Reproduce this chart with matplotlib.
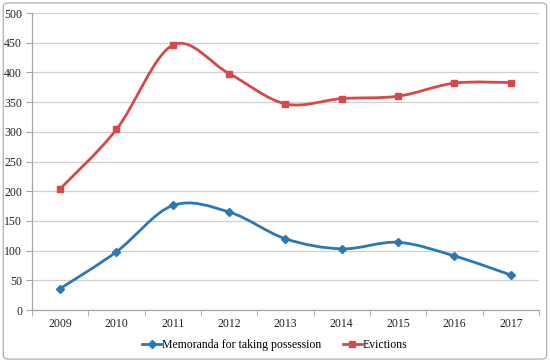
import numpy as np
import matplotlib
matplotlib.use('Agg')
import matplotlib.pyplot as plt
from matplotlib.path import Path
from matplotlib.patches import PathPatch, FancyBboxPatch

# data
years = ['2009', '2010', '2011', '2012', '2013', '2014', '2015', '2016', '2017']
memoranda = [36, 98, 176, 165, 120, 103, 114, 91, 59]
evictions = [204, 304, 446, 398, 347, 356, 360, 382, 383]

blue = '#2B78B8'
red = '#D9474B'

plt.rcParams['font.family'] = ['Liberation Serif', 'DejaVu Serif']


def smooth_path(x, y):
    # excel-like smoothed line : cubic bezier through the points
    x = np.asarray(x, float)
    y = np.asarray(y, float)
    n = len(x)
    verts = [(x[0], y[0])]
    codes = [Path.MOVETO]
    for i in range(n - 1):
        p0 = (x[max(i - 1, 0)], y[max(i - 1, 0)])
        p1 = (x[i], y[i])
        p2 = (x[i + 1], y[i + 1])
        p3 = (x[min(i + 2, n - 1)], y[min(i + 2, n - 1)])
        c1 = (p1[0] + (p2[0] - p0[0]) / 6, p1[1] + (p2[1] - p0[1]) / 6)
        c2 = (p2[0] - (p3[0] - p1[0]) / 6, p2[1] - (p3[1] - p1[1]) / 6)
        verts += [c1, c2, p2]
        codes += [Path.CURVE4] * 3
    return Path(verts, codes)


fig = plt.figure(figsize=(5.5, 3.62), dpi=100)
ax = fig.add_axes([0.058, 0.1436, 0.922, 0.8204])

xs = np.arange(len(years))
for vals, col, mk, ms, lab in [(memoranda, blue, 'D', 4, 'Memoranda for taking possession'),
                               (evictions, red, 's', 5, 'Evictions')]:
    ax.add_patch(PathPatch(smooth_path(xs, vals), fill=False, edgecolor=col, lw=2, zorder=3))
    ax.plot(xs, vals, ls='none', marker=mk, ms=ms, color=col, zorder=4)
    ax.plot([], [], color=col, lw=2, marker=mk, ms=ms, label=lab)

ax.set_xlim(-0.5, len(years) - 0.5)
ax.set_ylim(0, 500)
ax.set_yticks(np.arange(0, 501, 50))
ax.set_xticks(xs)
ax.set_xticklabels(years)
ax.set_xticks(np.arange(-0.5, len(years), 1), minor=True)
ax.tick_params(axis='x', which='major', length=0, labelsize=8.5, pad=6, labelcolor='#222222')
ax.tick_params(axis='x', which='minor', length=4, color='#a6a6a6', direction='out')
ax.tick_params(axis='y', length=4, color='#a6a6a6', labelsize=8.5, pad=3, labelcolor='#222222')
ax.grid(axis='y', color='#d0d0d0', lw=0.9)
ax.set_axisbelow(True)
for s in ['top', 'right']:
    ax.spines[s].set_visible(False)
for s in ['left', 'bottom']:
    ax.spines[s].set_color('#a6a6a6')
    ax.spines[s].set_linewidth(0.9)

fig.legend(loc='center', bbox_to_anchor=(0.5, 0.047), ncol=2, frameon=False,
           fontsize=8.5, handlelength=1.6, columnspacing=1.8, handletextpad=0.1)

fig.patches.append(FancyBboxPatch((0.006, 0.008), 0.988, 0.984, boxstyle='round,pad=0,rounding_size=0.01',
                                  transform=fig.transFigure, fill=False, edgecolor='#b0b0b0', lw=0.9))

fig.savefig('out.png', dpi=100)
